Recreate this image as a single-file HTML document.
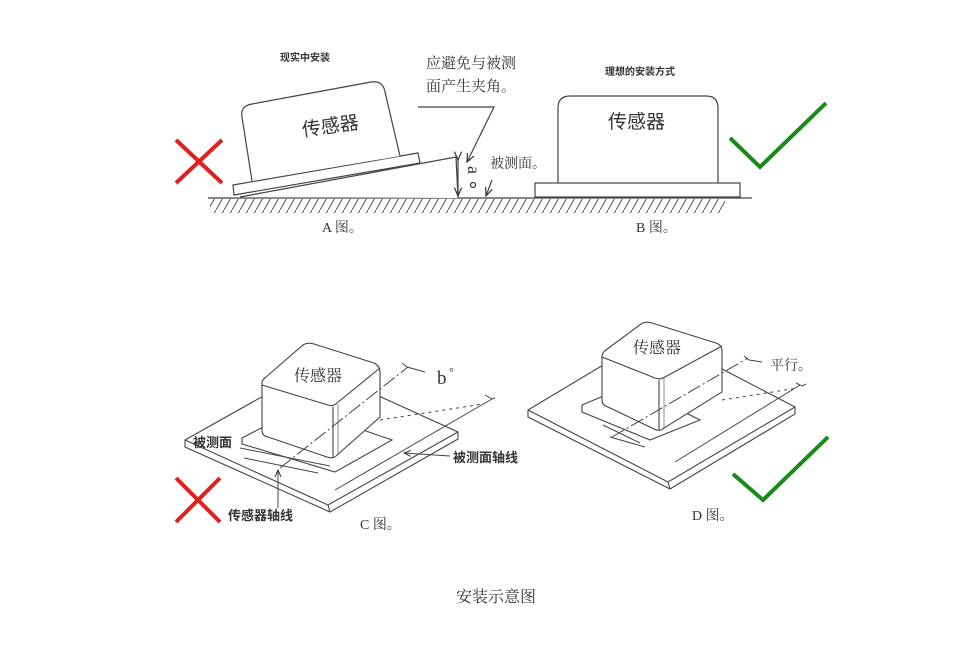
<!DOCTYPE html>
<html><head><meta charset="utf-8"><style>
html,body{margin:0;padding:0;background:#fff;}
svg{display:block;}
text{font-family:"Liberation Serif","Noto Serif CJK SC",serif;fill:#333;}
.s{font-family:"Liberation Sans","Noto Sans CJK SC",sans-serif;}
</style></head><body>
<svg width="966" height="656" viewBox="0 0 966 656" xmlns="http://www.w3.org/2000/svg">
<defs>
<pattern id="h" width="8" height="14" patternUnits="userSpaceOnUse">
<line x1="0" y1="14" x2="8" y2="0" stroke="#555" stroke-width="1"/>
</pattern>
<marker id="ar" markerWidth="8" markerHeight="8" refX="7" refY="4" orient="auto"><path d="M0,1 L7,4 L0,7" fill="none" stroke="#333" stroke-width="1"/></marker>
</defs>
<g fill="none" stroke="#444" stroke-width="1.2">
<line x1="208" y1="198" x2="752" y2="198"/>
<rect x="210" y="199" width="515" height="14" fill="url(#h)" stroke="none"/>
<path d="M240,197 L456,157 L458,198" fill="#fff"/>
<path d="M233,185 L418,153 L420,163 L234,195 Z" fill="#fff"/>
<path d="M252,181 L242,117 Q240,106 252,104 L371,82 Q383,80 385,92 L400,156" fill="#fff"/>
<line x1="458" y1="160" x2="458" y2="196" marker-end="url(#ar)" marker-start="url(#ar)"/>
<polyline points="418,107 494,107 467,162" marker-end="url(#ar)"/>
<line x1="492" y1="180" x2="486" y2="196" marker-end="url(#ar)"/>
<rect x="535" y="183" width="205" height="14" fill="#fff"/>
<path d="M558,183 L558,108 Q558,96 570,96 L706,96 Q718,96 718,108 L718,183"/>
</g>
<g stroke="#e02020" stroke-width="4" fill="none">
<line x1="176" y1="140" x2="222" y2="183"/><line x1="222" y1="140" x2="176" y2="183"/>
<line x1="176" y1="478" x2="220" y2="522"/><line x1="220" y1="478" x2="176" y2="522"/>
</g>
<g stroke="#1a8a1a" stroke-width="4" fill="none">
<polyline points="730,138 760,167 826,103"/>
<polyline points="733,474 763,500 828,437"/>
</g>
<text x="305" y="61" font-size="10" class="s" font-weight="bold" text-anchor="middle">现实中安装</text>
<text x="640" y="75" font-size="10" class="s" font-weight="bold" text-anchor="middle">理想的安装方式</text>
<text x="426" y="68" font-size="15">应避免与被测</text>
<text x="426" y="91" font-size="15">面产生夹角。</text>
<text x="490" y="168" font-size="14">被测面。</text>
<text x="460" y="170" font-size="18" transform="rotate(90 466 172)">a</text>
<circle cx="473" cy="185" r="2.5" fill="none" stroke="#333" stroke-width="1.2"/>
<text x="302" y="134" font-size="19" class="s" transform="rotate(-8 320 128)">传感器</text>
<text x="608" y="128" font-size="19" class="s">传感器</text>
<text x="322" y="232" font-size="14">A 图。</text>
<text x="636" y="232" font-size="14">B 图。</text>

<g fill="#fff" stroke="#444" stroke-width="1.1">
<path d="M185,440 L315,367 L458,432 L458,439 L330,512 L185,447 Z"/>
<path d="M185,440 L328,505 L458,432" fill="none"/>
<line x1="328" y1="505" x2="330" y2="512"/>
<path d="M242,438 L300,408 L392,440 L335,472 L242,444 Z"/>
<path d="M262,383 L262,430 Q262,436 268,437 L327,457 Q333,459 336,456 L380,417 L380,372 Q380,366 374,363 L314,344 Q308,342 303,345 L266,377 Q262,380 262,383 Z"/>
<path d="M262,385 L328,405 Q333,407 337,403 L380,368" fill="none"/>
<line x1="333" y1="407" x2="333" y2="457"/>
<line x1="338" y1="404" x2="338" y2="455" stroke-width="0.6"/>
</g>
<g stroke="#444" stroke-width="1" fill="none">
<line x1="240" y1="448" x2="330" y2="466"/>
<line x1="244" y1="458" x2="318" y2="473"/>
<line x1="280" y1="468" x2="408" y2="367" stroke-dasharray="14,3,2,3"/>
<polyline points="402,363 407,367 425,372"/>
<line x1="335" y1="490" x2="492" y2="399"/>
<polyline points="485,395 492,399 495,398"/>
<line x1="380" y1="420" x2="483" y2="404" stroke-dasharray="3,4"/>
<line x1="450" y1="456" x2="404" y2="453" marker-end="url(#ar)"/>
<line x1="278" y1="508" x2="278" y2="470" marker-end="url(#ar)"/>
</g>
<text x="294" y="381" font-size="16" fill="#666">传感器</text>
<text x="437" y="384" font-size="19">b</text>
<text x="449" y="376" font-size="12">°</text>
<text x="193" y="447" font-size="13" class="s" font-weight="bold">被测面</text>
<text x="453" y="462" font-size="13" class="s" font-weight="bold">被测面轴线</text>
<text x="228" y="520" font-size="13" class="s" font-weight="bold">传感器轴线</text>
<text x="360" y="529" font-size="14">C 图。</text>

<g fill="#fff" stroke="#444" stroke-width="1.1">
<path d="M528,410 L655,334 L795,407 L795,414 L670,489 L528,417 Z"/>
<path d="M528,410 L668,482 L795,407" fill="none"/>
<line x1="668" y1="482" x2="670" y2="489"/>
<path d="M582,405 L630,385 L700,420 L650,440 L582,412 Z"/>
<path d="M602,356 L602,400 Q602,405 608,407 L654,429 Q660,432 664,428 L722,392 L722,351 Q722,345 716,343 L652,323 Q646,321 641,324 L606,350 Q602,353 602,356 Z"/>
<path d="M602,357 L655,378 Q660,380 665,377 L722,346" fill="none"/>
<line x1="659" y1="380" x2="659" y2="430"/>
<line x1="664" y1="378" x2="664" y2="428" stroke-width="0.6"/>
</g>
<g stroke="#444" stroke-width="1" fill="none">
<line x1="603" y1="425" x2="640" y2="443"/>
<line x1="610" y1="437" x2="645" y2="447"/>
<line x1="612" y1="437" x2="748" y2="358" stroke-dasharray="14,3,2,3"/>
<polyline points="744,356 749,360 762,362"/>
<line x1="675" y1="462" x2="800" y2="385"/>
<polyline points="796,383 802,386 806,384"/>
<line x1="722" y1="400" x2="798" y2="388" stroke-dasharray="3,4"/>
</g>
<text x="633" y="353" font-size="16" fill="#666">传感器</text>
<text x="770" y="370" font-size="14">平行。</text>
<text x="692" y="520" font-size="14">D 图。</text>

<text x="496" y="602" font-size="16" text-anchor="middle">安装示意图</text>
</svg>
</body></html>
